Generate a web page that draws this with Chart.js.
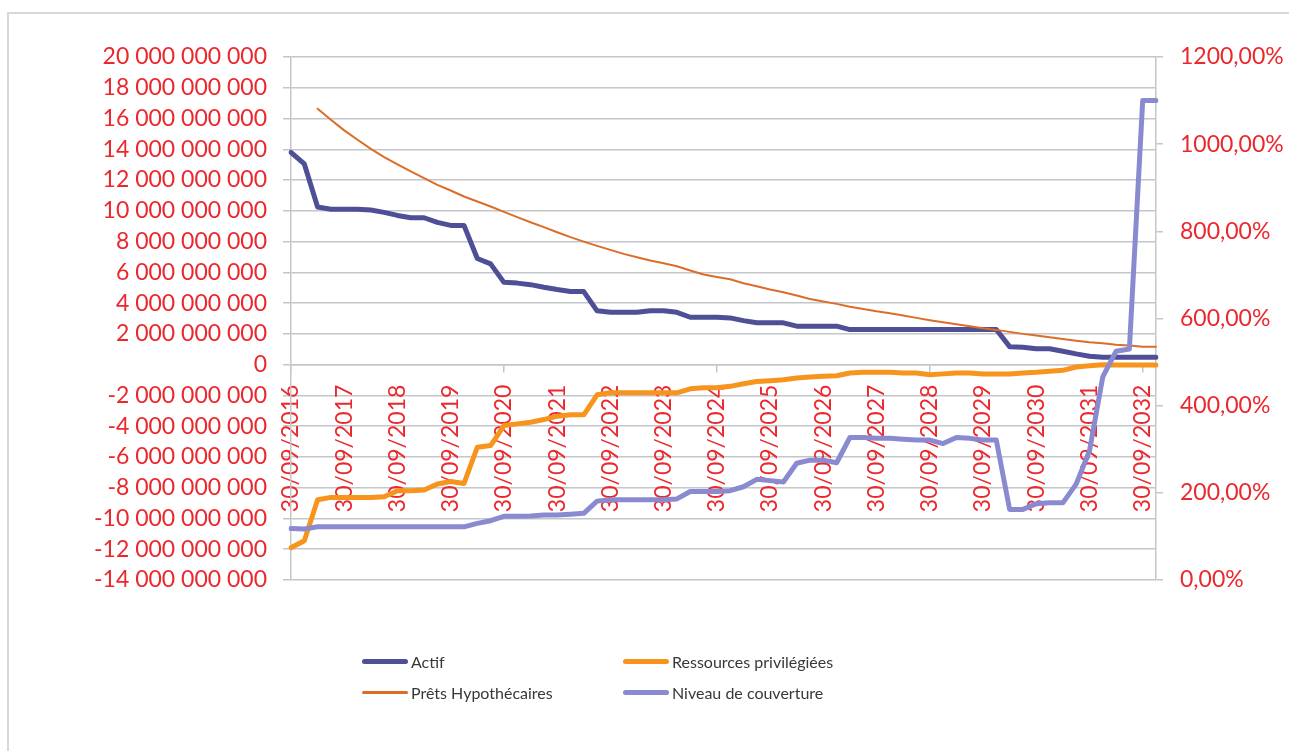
<!DOCTYPE html>
<html lang="fr">
<head>
<meta charset="UTF-8">
<title>Actif, ressources privilégiées et niveau de couverture</title>
<script src="https://cdn.jsdelivr.net/npm/chart.js"></script>
<style>
  body { margin: 0; background: #fff; }
  #cadre { position: relative; width: 1289px; height: 751px; overflow: hidden; font-family: Lato, "Open Sans", sans-serif; }
  #bord { position: absolute; left: 7px; top: 12px; right: -10px; bottom: -10px; border-left: 2px solid #d6d8da; border-top: 2px solid #d6d8da; }
  canvas { position: absolute; left: 0; top: 0; }
  .leg { position: absolute; height: 20px; font-size: 16px; color: #383838; display: flex; align-items: center; white-space: nowrap; }
  .leg .trait { display: inline-block; width: 46px; border-radius: 3px; margin-right: 3px; }
</style>
</head>
<body>
<div id="cadre">
  <div id="bord"></div>
  <canvas id="graphique" width="1289" height="751"></canvas>
  <div class="leg" style="left:362px; top:651px;"><span class="trait" style="height:5px; background:#4e4f97;"></span>Actif</div>
  <div class="leg" style="left:623px; top:651px;"><span class="trait" style="height:5px; background:#f7941e;"></span>Ressources privilégiées</div>
  <div class="leg" style="left:362px; top:682px;"><span class="trait" style="height:3px; background:#dc6d28;"></span>Prêts Hypothécaires</div>
  <div class="leg" style="left:623px; top:682px;"><span class="trait" style="height:5px; background:#8a8ad0;"></span>Niveau de couverture</div>
</div>

<script>
// valeurs en milliards d'euros (axe de gauche), un point par trimestre depuis le 30/09/2016
const actif = [13.8, 13.05, 10.25, 10.1, 10.1, 10.1, 10.05, 9.9, 9.7, 9.55, 9.55, 9.25, 9.05, 9.05,
  6.9, 6.55, 5.35, 5.3, 5.2, 5.03, 4.88, 4.75, 4.75, 3.5, 3.4, 3.4, 3.4, 3.5, 3.5, 3.4,
  3.08, 3.08, 3.08, 3.04, 2.86, 2.72, 2.72, 2.72, 2.5, 2.5, 2.5, 2.5, 2.28,
  2.28, 2.28, 2.28, 2.28, 2.28, 2.28, 2.28, 2.28, 2.28, 2.28, 2.28,
  1.17, 1.13, 1.03, 1.03, 0.87, 0.7, 0.55, 0.48, 0.48, 0.48, 0.48, 0.48];

const ressources = [-11.9, -11.45, -8.78, -8.63, -8.63, -8.63, -8.63, -8.59, -8.2, -8.2, -8.15, -7.76, -7.6, -7.72,
  -5.37, -5.26, -3.96, -3.85, -3.74, -3.57, -3.35, -3.26, -3.26, -1.96, -1.83, -1.83, -1.83, -1.83, -1.83, -1.83,
  -1.57, -1.5, -1.5, -1.41, -1.24, -1.09, -1.04, -0.98, -0.87, -0.8, -0.76, -0.72, -0.54,
  -0.5, -0.5, -0.5, -0.54, -0.54, -0.65, -0.6, -0.54, -0.54, -0.61, -0.61,
  -0.61, -0.54, -0.5, -0.43, -0.37, -0.15, -0.07, 0.0, -0.02, -0.02, -0.02, -0.02];

const prets = [null, null, 16.64, 15.92, 15.23, 14.62, 14.03, 13.49, 13.02, 12.56, 12.13, 11.69, 11.32, 10.93,
  10.61, 10.28, 9.93, 9.59, 9.26, 8.94, 8.61, 8.29, 8.0, 7.72, 7.46, 7.2, 6.98, 6.77, 6.59, 6.4,
  6.12, 5.86, 5.7, 5.55, 5.29, 5.1, 4.88, 4.71, 4.49, 4.27, 4.1, 3.95, 3.77,
  3.62, 3.47, 3.34, 3.19, 3.04, 2.89, 2.75, 2.62, 2.49, 2.36, 2.26,
  2.13, 2.0, 1.89, 1.78, 1.67, 1.56, 1.45, 1.39, 1.3, 1.24, 1.17, 1.17];

// niveau de couverture en % (axe de droite)
const couverture = [118, 117, 122, 122, 122, 122, 122, 122, 122, 122, 122, 122, 122, 122,
  130, 136, 146, 146, 147, 149, 149, 151, 153, 181, 184, 184, 184, 184, 184, 186,
  203, 203, 203, 205, 214, 231, 228, 225, 268, 275, 275, 269, 327,
  327, 325, 325, 323, 321, 321, 313, 327, 325, 321, 321,
  162, 162, 175, 177, 177, 220, 296, 466, 525, 530, 1100, 1100];

// dates de fin de trimestre (seul le 30/09 de chaque année est affiché)
const finsTrimestre = ['30/09', '31/12', '31/03', '30/06'];
const trimestres = [];
for (let i = 0; i < actif.length; i++) {
  const annee = (i % 4 < 2) ? 2016 + Math.floor(i / 4) : 2017 + Math.floor(i / 4);
  trimestres.push(finsTrimestre[i % 4] + '/' + annee);
}

const ROUGE = 'rgb(235, 40, 45)';
const GRILLE = '#c3c6ca';
const POLICE = { family: 'Lato, "Open Sans", sans-serif', size: 23 };

function milliers(n) {
  const s = Math.abs(n).toString().replace(/\B(?=(\d{3})+(?!\d))/g, ' ');
  return (n < 0 ? '-' : '') + s;
}

new Chart(document.getElementById('graphique'), {
  type: 'line',
  data: {
    labels: trimestres,
    datasets: [
      { label: 'Actif', data: actif, yAxisID: 'y', borderColor: '#4e4f97', borderWidth: 5, order: 4 },
      { label: 'Ressources privilégiées', data: ressources, yAxisID: 'y', borderColor: '#f7941e', borderWidth: 5, order: 3 },
      { label: 'Prêts Hypothécaires', data: prets, yAxisID: 'y', borderColor: '#dc6d28', borderWidth: 2, order: 2 },
      { label: 'Niveau de couverture', data: couverture, yAxisID: 'y1', borderColor: '#8a8ad0', borderWidth: 5, order: 1 }
    ]
  },
  options: {
    responsive: false,
    animation: false,
    layout: { padding: { left: 0, right: 0, top: 57, bottom: 171 } },
    elements: {
      point: { radius: 0 },
      line: { tension: 0, borderJoinStyle: 'round', borderCapStyle: 'round' }
    },
    plugins: { legend: { display: false }, tooltip: { enabled: false } },
    scales: {
      // axe des dates placé sur la ligne du zéro, libellés par-dessus les courbes
      x: {
        position: { y: 0 },
        z: 1,
        offset: false,
        grid: {
          drawOnChartArea: false,
          tickLength: 7,
          lineWidth: 1.5,
          color: (ctx) => ctx.index % 4 === 0 ? GRILLE : 'rgba(0,0,0,0)'
        },
        border: { color: GRILLE, width: 1.5 },
        ticks: {
          autoSkip: false,
          minRotation: 90,
          maxRotation: 90,
          padding: 13,
          color: ROUGE,
          font: POLICE,
          callback: function (v, i) { return i % 4 === 0 ? this.getLabelForValue(v) : null; }
        },
        afterFit: (s) => { s.height = 0; }
      },
      y: {
        position: 'left',
        min: -14,
        max: 20,
        grid: { color: GRILLE, lineWidth: 1.5, tickLength: 8 },
        border: { color: GRILLE, width: 1.5 },
        ticks: {
          stepSize: 2,
          autoSkip: false,
          padding: 16,
          color: ROUGE,
          font: POLICE,
          callback: (v) => milliers(Math.round(v * 1e9))
        },
        afterFit: (s) => { s.width = 291; }
      },
      y1: {
        position: 'right',
        min: 0,
        max: 1200,
        grid: { drawOnChartArea: false, color: GRILLE, lineWidth: 1.5, tickLength: 7 },
        border: { color: GRILLE, width: 1.5 },
        ticks: {
          stepSize: 200,
          padding: 17,
          color: ROUGE,
          font: POLICE,
          callback: (v) => v.toFixed(2).replace('.', ',') + '%'
        },
        afterFit: (s) => { s.width = 133; }
      }
    }
  }
});
</script>
</body>
</html>
